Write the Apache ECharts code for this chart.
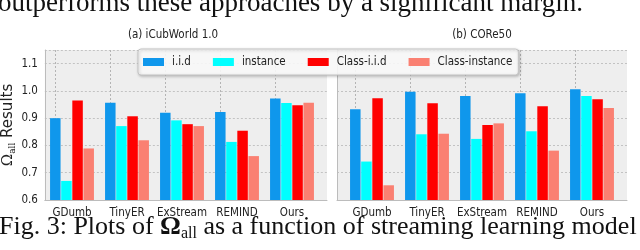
<!DOCTYPE html>
<html><head><meta charset="utf-8">
<script src="https://cdn.jsdelivr.net/npm/echarts@6/dist/echarts.min.js"></script>
<style>html,body{margin:0;padding:0;background:#fff}#c{width:640px;height:250px}</style>
</head><body><div id="c"></div>
<script>
const categories = ['GDumb', 'TinyER', 'ExStream', 'REMIND', 'Ours'];
const seriesNames = ['i.i.d', 'instance', 'Class-i.i.d', 'Class-instance'];
const icubIid = [0.900, 0.957, 0.920, 0.923, 0.972];
const icubInstance = [0.670, 0.871, 0.892, 0.813, 0.956];
const icubClassIid = [0.965, 0.907, 0.878, 0.854, 0.947];
const icubClassInstance = [0.789, 0.819, 0.871, 0.761, 0.957];
const coreIid = [0.933, 0.997, 0.981, 0.991, 1.006];
const coreInstance = [0.741, 0.841, 0.824, 0.852, 0.981];
const coreClassIid = [0.973, 0.955, 0.875, 0.944, 0.969];
const coreClassInstance = [0.654, 0.843, 0.881, 0.781, 0.937];
const yTicks = ['0.6', '0.7', '0.8', '0.9', '1.0', '1.1'];
const titles = ['(a) iCubWorld 1.0', '(b) CORe50'];
const topText = 'outperforms these approaches by a significant margin.';
const captionStart = 'Fig. 3: Plots of ';
const captionSymbol = 'Ω';
const captionSub = 'all';
const captionEnd = ' as a function of streaming learning model';

const colors = ['#0f97ec', '#00ffff', '#ff0000', '#fa8072'];
const SANS = "'DejaVu Sans Condensed', 'Liberation Sans Narrow', 'DejaVu Sans', sans-serif";
const SERIF = "'Liberation Serif', 'DejaVu Serif', serif";
const grid = '#c2c2c2';

function bgX(gi) {
  return { gridIndex: gi, type: 'value', min: 0, max: 1,
    axisLine: { show: true, lineStyle: { color: '#bcbcbc', width: 1 } },
    axisTick: { show: false }, axisLabel: { show: false }, splitLine: { show: false } };
}
function barX(gi) {
  return { gridIndex: gi, type: 'category', data: categories,
    axisLine: { show: false }, axisTick: { show: false },
    axisLabel: { interval: 0, margin: 7, fontSize: 11.5, fontFamily: SANS, color: '#222' },
    splitLine: { show: false } };
}
function bgY(gi, labels) {
  const y = { gridIndex: gi, type: 'value', min: 0.6, max: 1.15, interval: 0.1,
    axisLine: { show: true, lineStyle: { color: '#bcbcbc', width: 1 } },
    axisTick: { show: false },
    axisLabel: { show: labels, showMaxLabel: false, margin: 7, fontSize: 11.5, fontFamily: SANS, color: '#222',
      formatter: v => { const t = yTicks.find(s => Math.abs(parseFloat(s) - v) < 1e-6); return t || ''; } },
    splitLine: { show: true, lineStyle: { type: [2, 2], color: grid, width: 1 } } };
  if (labels) {
    y.name = '{o|' + captionSymbol + '}{s|' + captionSub + '} Results';
    y.nameLocation = 'middle';
    y.nameGap = 22;
    y.nameTextStyle = { fontSize: 15, fontFamily: "'DejaVu Sans', sans-serif", color: '#222',
      rich: { o: { fontSize: 15, fontFamily: "'DejaVu Serif', serif", color: '#222', lineHeight: 18 },
              s: { fontSize: 9, fontFamily: "'DejaVu Serif', serif", color: '#222', verticalAlign: 'bottom', lineHeight: 18 } } };
  }
  return y;
}
function barY(gi) {
  return { gridIndex: gi, type: 'value', min: 0.6, max: 1.15, show: false, splitLine: { show: false } };
}
function mk(name, data, axis, color, mark) {
  const s = { name, type: 'bar', xAxisIndex: axis, yAxisIndex: axis, data, barWidth: 10.5, barGap: '6%',
    itemStyle: { color }, emphasis: { disabled: true } };
  if (mark) {
    s.markLine = { silent: true, symbol: 'none', z: 1, label: { show: false },
      lineStyle: { type: [2, 2], color: '#b4b4b4', width: 1 },
      data: categories.map(c => ({ xAxis: c })) };
  }
  return s;
}
const left = [icubIid, icubInstance, icubClassIid, icubClassInstance];
const right = [coreIid, coreInstance, coreClassIid, coreClassInstance];
const series = [];
left.forEach((d, i) => series.push(mk(seriesNames[i], d, 1, colors[i], i === 0)));
right.forEach((d, i) => series.push(mk(seriesNames[i], d, 3, colors[i], i === 0)));

const chart = echarts.init(document.getElementById('c'), null, { renderer: 'canvas' });
chart.setOption({
  animation: false,
  color: colors,
  title: [
    { text: titles[0], left: 173, top: 29, textAlign: 'center', padding: 0,
      textStyle: { fontSize: 11.5, fontWeight: 'normal', fontFamily: SANS, color: '#222' } },
    { text: titles[1], left: 482, top: 29, textAlign: 'center', padding: 0,
      textStyle: { fontSize: 11.5, fontWeight: 'normal', fontFamily: SANS, color: '#222' } }
  ],
  legend: { data: seriesNames, left: 138, top: 49, icon: 'rect', itemWidth: 21, itemHeight: 8, itemGap: 22,
    padding: [7, 6, 7, 5], backgroundColor: 'rgba(255,255,255,0.88)', borderColor: '#c4c4c4', borderWidth: 1,
    borderRadius: 3, shadowBlur: 3, shadowColor: 'rgba(0,0,0,0.25)', shadowOffsetX: 1, shadowOffsetY: 1,
    selectedMode: false,
    textStyle: { fontSize: 11.5, fontFamily: SANS, color: '#222', padding: [0, 0, 0, 3] } },
  grid: [
    { left: 37, top: 50, width: 290, height: 150, show: true, backgroundColor: '#eeeeee', borderWidth: 0 },
    { left: 44.5, top: 50, width: 275, height: 150 },
    { left: 337, top: 50, width: 290, height: 150, show: true, backgroundColor: '#eeeeee', borderWidth: 0 },
    { left: 344.5, top: 50, width: 275, height: 150 }
  ],
  xAxis: [bgX(0), barX(1), bgX(2), barX(3)],
  yAxis: [bgY(0, true), barY(1), bgY(2, false), barY(3)],
  series,
  graphic: [
    { type: 'text', left: -2, top: -10, silent: true,
      style: { text: topText, font: '27px ' + SERIF, fill: '#111' } },
    { type: 'text', left: -1, top: 214, silent: true,
      style: { text: '{a|' + captionStart + '}{b|' + captionSymbol + '}{c|' + captionSub + '}{a|' + captionEnd + '}',
        fill: '#111',
        rich: { a: { font: '26px ' + SERIF, fill: '#111', lineHeight: 29 },
                b: { font: 'bold 26px ' + SERIF, fill: '#111', lineHeight: 29 },
                c: { font: '16px ' + SERIF, fill: '#111', lineHeight: 29, verticalAlign: 'bottom' } } } }
  ]
});
</script></body></html>
